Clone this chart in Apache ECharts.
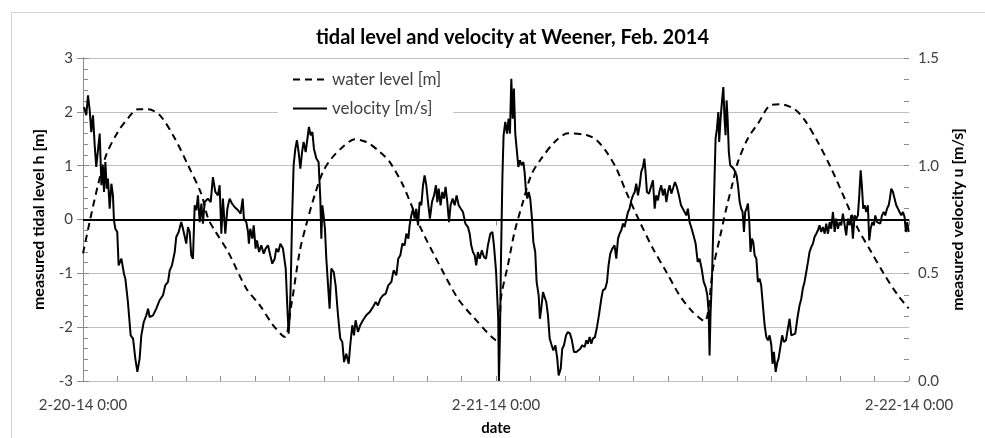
<!DOCTYPE html>
<html>
<head>
<meta charset="utf-8">
<script src="https://cdn.jsdelivr.net/npm/echarts@6/dist/echarts.min.js"></script>
<style>html,body{margin:0;padding:0;background:#fff}#c{width:985px;height:438px}</style>
</head>
<body>
<div id="c"></div>
<script>
// hours since 2-20-14 0:00
var dateLabels = {0: '2-20-14 0:00', 24: '2-21-14 0:00', 48: '2-22-14 0:00'};

var levelT = [0, 0.39, 0.87, 1.35, 2.03, 2.61, 3.2, 3.78, 4.46, 5.33, 6.1, 6.87, 7.27, 7.65, 8.43, 9.49, 10.27, 11.04, 11.72,
  12.1, 12.59, 12.97, 13.46, 13.95, 14.43, 15.11, 15.79, 16.46, 17.24, 17.82, 18.59, 19.08, 19.64, 20.82, 21.79, 22.76, 24.02,
  24.31, 24.69, 25.08, 25.57, 26.05, 26.63, 27.41, 28.18, 29.25, 29.83, 30.41, 30.99, 31.57, 32.35, 33.12, 33.89, 34.67, 35.44, 36.12,
  36.61, 37.0, 37.38, 37.77, 38.06, 38.64, 39.22, 40.0, 40.57, 41.35, 41.93, 42.7, 43.48, 44.26, 45.03, 45.8, 46.58, 47.36, 47.98];
var levelH = [-0.63, -0.04, 0.64, 1.2, 1.63, 1.88, 2.05, 2.05, 1.94, 1.51, 1.01, 0.48, 0.02, -0.2, -0.6, -1.28, -1.59, -1.96, -2.18,
  -1.6, -0.6, -0.1, 0.45, 0.89, 1.13, 1.35, 1.49, 1.44, 1.26, 1.07, 0.64, 0.27, -0.17, -0.91, -1.47, -1.84, -2.24,
  -1.41, -0.85, -0.23, 0.33, 0.83, 1.13, 1.44, 1.6, 1.57, 1.48, 1.26, 0.95, 0.51, -0.04, -0.54, -0.97, -1.41, -1.72, -1.89,
  -0.91, -0.35, 0.2, 0.7, 1.07, 1.51, 1.78, 2.13, 2.14, 2.05, 1.85, 1.44, 0.95, 0.39, -0.17, -0.6, -1.03, -1.41, -1.65];

var velT = [0.06, 0.19, 0.29, 0.39, 0.48, 0.58, 0.68, 0.77, 0.87, 0.97, 1.07, 1.16, 1.22, 1.30, 1.38, 1.45, 1.55, 1.65, 1.74, 1.80,
  1.88, 1.99, 2.07, 2.23, 2.38, 2.46, 2.61, 2.77, 2.91, 3.04, 3.16, 3.29, 3.39, 3.53, 3.68, 3.78, 3.87, 4.07, 4.26, 4.45,
  4.65, 4.78, 4.94, 5.04, 5.17, 5.33, 5.42, 5.56, 5.71, 5.81, 5.91, 6.00, 6.10, 6.20, 6.29, 6.39, 6.49, 6.59, 6.68, 6.78,
  6.88, 6.97, 7.07, 7.26, 7.42, 7.55, 7.69, 7.84, 7.94, 8.04, 8.13, 8.27, 8.39, 8.52, 8.66, 8.81, 9.01, 9.16, 9.28, 9.35,
  9.49, 9.59, 9.64, 9.72, 9.84, 9.92, 10.03, 10.11, 10.23, 10.36, 10.50, 10.61, 10.75, 10.88, 11.00, 11.14, 11.23, 11.35, 11.47, 11.62,
  11.78, 11.87, 11.95, 12.01, 12.07, 12.15, 12.24, 12.34, 12.43, 12.53, 12.63, 12.73, 12.82, 12.94, 13.04, 13.13, 13.23, 13.33, 13.42, 13.56,
  13.69, 13.79, 13.85, 13.91, 13.98, 14.06, 14.14, 14.24, 14.33, 14.43, 14.57, 14.68, 14.82, 14.95, 15.07, 15.17, 15.30, 15.44, 15.53, 15.65,
  15.75, 15.84, 15.98, 16.11, 16.27, 16.46, 16.66, 16.85, 17.01, 17.14, 17.28, 17.43, 17.59, 17.74, 17.92, 18.05, 18.21, 18.32, 18.44, 18.56,
  18.69, 18.79, 18.91, 18.98, 19.08, 19.18, 19.27, 19.37, 19.47, 19.56, 19.66, 19.76, 19.85, 19.95, 20.05, 20.16, 20.28, 20.40, 20.51, 20.59,
  20.67, 20.78, 20.88, 20.98, 21.07, 21.17, 21.27, 21.36, 21.48, 21.60, 21.71, 21.83, 21.94, 22.08, 22.22, 22.37, 22.47, 22.56, 22.66, 22.76,
  22.85, 22.95, 23.05, 23.18, 23.30, 23.42, 23.53, 23.67, 23.79, 23.88, 24.00, 24.08, 24.13, 24.17, 24.23, 24.29, 24.37, 24.44, 24.54, 24.64,
  24.73, 24.81, 24.89, 24.97, 25.04, 25.12, 25.20, 25.30, 25.39, 25.49, 25.59, 25.66, 25.74, 25.82, 25.90, 25.99, 26.09, 26.17, 26.28, 26.36,
  26.48, 26.55, 26.63, 26.73, 26.83, 26.92, 27.02, 27.12, 27.21, 27.33, 27.45, 27.56, 27.64, 27.76, 27.85, 27.95, 28.07, 28.18, 28.30, 28.41,
  28.53, 28.67, 28.76, 28.90, 29.01, 29.15, 29.25, 29.34, 29.44, 29.54, 29.63, 29.75, 29.87, 29.98, 30.12, 30.21, 30.35, 30.45, 30.54, 30.64,
  30.76, 30.89, 30.99, 31.09, 31.18, 31.28, 31.38, 31.47, 31.57, 31.67, 31.76, 31.86, 31.96, 32.06, 32.15, 32.25, 32.35, 32.44, 32.54, 32.62,
  32.69, 32.77, 32.89, 33.00, 33.12, 33.22, 33.31, 33.41, 33.51, 33.60, 33.70, 33.80, 33.90, 33.99, 34.09, 34.19, 34.28, 34.40, 34.51, 34.63,
  34.75, 34.86, 34.96, 35.06, 35.15, 35.25, 35.37, 35.48, 35.60, 35.72, 35.83, 35.95, 36.07, 36.18, 36.28, 36.36, 36.41, 36.47, 36.55, 36.63,
  36.70, 36.76, 36.84, 36.92, 36.97, 37.05, 37.13, 37.21, 37.28, 37.34, 37.40, 37.46, 37.53, 37.61, 37.71, 37.81, 37.90, 37.98, 38.06, 38.16,
  38.25, 38.33, 38.41, 38.48, 38.56, 38.64, 38.72, 38.79, 38.87, 38.95, 39.03, 39.13, 39.22, 39.32, 39.41, 39.51, 39.61, 39.71, 39.80, 39.90,
  40.00, 40.07, 40.15, 40.25, 40.35, 40.42, 40.54, 40.63, 40.73, 40.85, 40.96, 41.06, 41.16, 41.26, 41.39, 41.51, 41.64, 41.74, 41.83, 41.93,
  42.03, 42.13, 42.22, 42.32, 42.42, 42.51, 42.61, 42.71, 42.80, 42.90, 43.00, 43.10, 43.19, 43.29, 43.39, 43.48, 43.58, 43.68, 43.77, 43.87,
  43.97, 44.06, 44.16, 44.26, 44.35, 44.45, 44.55, 44.64, 44.74, 44.84, 44.94, 45.03, 45.11, 45.19, 45.26, 45.34, 45.42, 45.52, 45.61, 45.69,
  45.77, 45.87, 45.96, 46.04, 46.14, 46.23, 46.33, 46.43, 46.53, 46.62, 46.72, 46.82, 46.89, 46.97, 47.07, 47.16, 47.26, 47.36, 47.45, 47.55,
  47.65, 47.74, 47.82, 47.90, 47.98];
var velU = [1.272, 1.234, 1.327, 1.257, 1.156, 1.234, 1.094, 0.994, 1.002, 1.149, 0.909, 0.994, 0.878, 1.017, 0.893, 0.940, 0.800, 0.916, 0.862, 0.746,
  0.707, 0.692, 0.537, 0.568, 0.498, 0.475, 0.367, 0.212, 0.197, 0.104, 0.042, 0.104, 0.212, 0.274, 0.305, 0.336, 0.297, 0.305, 0.336, 0.375,
  0.398, 0.444, 0.460, 0.514, 0.537, 0.599, 0.669, 0.692, 0.738, 0.707, 0.715, 0.638, 0.715, 0.692, 0.584, 0.568, 0.816, 0.793, 0.862, 0.738,
  0.824, 0.731, 0.831, 0.847, 0.831, 0.947, 0.878, 0.862, 0.909, 0.684, 0.847, 0.684, 0.800, 0.847, 0.824, 0.808, 0.793, 0.777, 0.847, 0.754,
  0.738, 0.692, 0.638, 0.707, 0.661, 0.723, 0.615, 0.653, 0.599, 0.630, 0.591, 0.615, 0.630, 0.584, 0.545, 0.568, 0.615, 0.599, 0.638, 0.615,
  0.522, 0.351, 0.220, 0.305, 0.444, 0.754, 1.002, 1.079, 1.118, 1.063, 0.986, 1.063, 1.110, 1.063, 1.125, 1.180, 1.141, 1.156, 1.079, 1.033,
  1.017, 0.847, 0.661, 0.816, 0.769, 0.707, 0.568, 0.444, 0.336, 0.522, 0.506, 0.444, 0.305, 0.197, 0.181, 0.088, 0.127, 0.080, 0.166, 0.259,
  0.212, 0.282, 0.228, 0.259, 0.282, 0.305, 0.320, 0.344, 0.367, 0.351, 0.382, 0.398, 0.406, 0.444, 0.460, 0.514, 0.491, 0.568, 0.584, 0.638,
  0.630, 0.684, 0.661, 0.723, 0.769, 0.800, 0.754, 0.800, 0.723, 0.831, 0.816, 0.909, 0.955, 0.909, 0.831, 0.754, 0.831, 0.862, 0.909, 0.831,
  0.893, 0.816, 0.878, 0.847, 0.901, 0.831, 0.738, 0.816, 0.847, 0.816, 0.862, 0.816, 0.808, 0.785, 0.731, 0.715, 0.684, 0.630, 0.599, 0.584,
  0.537, 0.599, 0.568, 0.607, 0.576, 0.568, 0.630, 0.684, 0.692, 0.630, 0.514, 0.506, 0.289, 0.000, 0.212, 0.568, 0.940, 1.141, 1.203, 1.149,
  1.218, 1.149, 1.404, 1.218, 1.358, 1.149, 1.079, 0.994, 1.025, 1.002, 1.017, 0.971, 0.885, 0.847, 0.878, 0.847, 0.754, 0.646, 0.599, 0.460,
  0.398, 0.289, 0.336, 0.413, 0.421, 0.367, 0.305, 0.197, 0.173, 0.142, 0.166, 0.104, 0.026, 0.057, 0.150, 0.166, 0.212, 0.228, 0.220, 0.189,
  0.135, 0.135, 0.142, 0.150, 0.166, 0.158, 0.189, 0.173, 0.204, 0.173, 0.197, 0.204, 0.251, 0.305, 0.382, 0.421, 0.429, 0.460, 0.537, 0.591,
  0.615, 0.630, 0.568, 0.661, 0.684, 0.700, 0.731, 0.715, 0.707, 0.785, 0.800, 0.839, 0.862, 0.878, 0.916, 0.862, 0.909, 0.971, 0.994, 1.033,
  0.971, 0.878, 0.870, 0.870, 0.932, 0.800, 0.862, 0.839, 0.885, 0.909, 0.862, 0.893, 0.831, 0.878, 0.909, 0.870, 0.893, 0.924, 0.901, 0.862,
  0.816, 0.800, 0.808, 0.769, 0.800, 0.738, 0.707, 0.676, 0.638, 0.553, 0.568, 0.522, 0.460, 0.437, 0.398, 0.320, 0.119, 0.320, 0.475, 0.723,
  0.940, 1.125, 1.172, 1.249, 1.110, 1.218, 1.296, 1.365, 1.218, 1.141, 1.303, 1.218, 1.063, 1.002, 1.009, 0.986, 0.994, 0.955, 0.909, 0.831,
  0.800, 0.785, 0.692, 0.785, 0.800, 0.824, 0.738, 0.599, 0.661, 0.646, 0.584, 0.568, 0.460, 0.475, 0.444, 0.351, 0.259, 0.204, 0.189, 0.212,
  0.166, 0.080, 0.135, 0.042, 0.088, 0.104, 0.166, 0.212, 0.181, 0.189, 0.243, 0.289, 0.212, 0.212, 0.220, 0.289, 0.351, 0.382, 0.429, 0.460,
  0.506, 0.553, 0.599, 0.622, 0.638, 0.669, 0.684, 0.700, 0.723, 0.692, 0.715, 0.684, 0.731, 0.684, 0.738, 0.707, 0.785, 0.692, 0.754, 0.707,
  0.738, 0.723, 0.777, 0.785, 0.676, 0.754, 0.723, 0.769, 0.661, 0.769, 0.754, 0.769, 0.862, 0.978, 0.909, 0.800, 0.816, 0.785, 0.816, 0.653,
  0.707, 0.738, 0.723, 0.769, 0.738, 0.746, 0.731, 0.769, 0.785, 0.769, 0.800, 0.816, 0.847, 0.893, 0.878, 0.847, 0.816, 0.800, 0.785, 0.769,
  0.785, 0.762, 0.692, 0.738, 0.692];

var levelData = levelT.map(function (t, i) { return [t, levelH[i]]; });
var velData = velT.map(function (t, i) { return [t, velU[i]]; });

var FONT = 'Lato';
var LABEL = '#404040';
var AXIS = '#8c8c8c';
var GRIDC = '#c0c0c0';

var chart = echarts.init(document.getElementById('c'), null, {renderer: 'canvas'});
chart.setOption({
  animation: false,
  backgroundColor: '#fff',
  graphic: [{
    type: 'rect', z: -10, silent: true,
    shape: {x: 11.5, y: 12.5, width: 990, height: 460},
    style: {fill: 'none', stroke: '#d0d0d0', lineWidth: 1}
  }],
  title: {
    text: 'tidal level and velocity at Weener, Feb. 2014',
    left: 311, top: 23,
    textStyle: {fontFamily: FONT, fontSize: 20, fontWeight: 'bold', color: '#000'}
  },
  legend: {
    left: 278, top: 63, orient: 'vertical', z: 1,
    backgroundColor: '#fff',
    padding: [8, 12, 6, 14],
    itemGap: 12, itemWidth: 34, itemHeight: 16,
    itemStyle: {opacity: 0},
    textStyle: {fontFamily: FONT, fontSize: 17, color: LABEL},
    data: ['water level [m]', 'velocity [m/s]']
  },
  grid: {left: 83, right: 76, top: 58, bottom: 57, outerBoundsMode: 'none', containLabel: false},
  xAxis: [{
    type: 'value', min: 0, max: 48, interval: 24,
    name: 'date', nameLocation: 'middle', nameGap: 40,
    nameTextStyle: {fontFamily: FONT, fontSize: 15, fontWeight: 'bold', color: '#000'},
    axisLine: {show: true, lineStyle: {color: AXIS, width: 1}},
    axisTick: {show: true, inside: false, length: 6, lineStyle: {color: AXIS}},
    axisLabel: {fontFamily: FONT, fontSize: 15, color: LABEL, margin: 17,
      formatter: function (v) { return dateLabels[v] || ''; }},
    splitLine: {show: false}
  }, {
    type: 'value', min: 0, max: 48, interval: 2, position: 'bottom',
    axisLine: {show: false},
    axisTick: {show: true, inside: true, length: 5, lineStyle: {color: AXIS}},
    axisLabel: {show: false},
    splitLine: {show: false}
  }],
  yAxis: [{
    type: 'value', min: -3, max: 3, interval: 1, position: 'left',
    name: 'measured tidal level h [m]', nameLocation: 'middle', nameGap: 36,
    nameTextStyle: {fontFamily: FONT, fontSize: 16, fontWeight: 'bold', color: '#000'},
    axisLine: {show: true, lineStyle: {color: AXIS, width: 1}},
    axisTick: {show: true, inside: false, length: 6, lineStyle: {color: AXIS}},
    axisLabel: {fontFamily: FONT, fontSize: 15, color: LABEL, margin: 10},
    splitLine: {show: true, lineStyle: {color: GRIDC, width: 1}}
  }, {
    type: 'value', min: 0, max: 1.5, interval: 0.5, position: 'right',
    name: 'measured velocity u [m/s]', nameLocation: 'middle', nameGap: 41,
    nameTextStyle: {fontFamily: FONT, fontSize: 16, fontWeight: 'bold', color: '#000'},
    axisLine: {show: true, lineStyle: {color: AXIS, width: 1}},
    axisTick: {show: true, inside: false, length: 6, lineStyle: {color: AXIS}},
    axisLabel: {fontFamily: FONT, fontSize: 15, color: LABEL, margin: 9,
      formatter: function (v) { return v.toFixed(1); }},
    splitLine: {show: false}
  }, {
    type: 'value', min: -3, max: 3, interval: 0.2, position: 'left',
    axisLine: {show: false},
    axisTick: {show: true, inside: true, length: 5, lineStyle: {color: AXIS}},
    axisLabel: {show: false}, splitLine: {show: false}
  }, {
    type: 'value', min: 0, max: 1.5, interval: 0.1, position: 'right',
    axisLine: {show: false},
    axisTick: {show: true, inside: true, length: 5, lineStyle: {color: AXIS}},
    axisLabel: {show: false}, splitLine: {show: false}
  }],
  series: [{
    name: 'water level [m]', type: 'line', xAxisIndex: 0, yAxisIndex: 0,
    data: levelData, showSymbol: false, symbol: 'none', smooth: 0.3,
    lineStyle: {color: '#000', width: 2, type: [7, 5]},
    itemStyle: {color: '#000'},
    markLine: {
      silent: true, symbol: 'none', label: {show: false},
      lineStyle: {color: '#000', width: 2, type: 'solid'},
      data: [{yAxis: 0}]
    }
  }, {
    name: 'velocity [m/s]', type: 'line', xAxisIndex: 0, yAxisIndex: 1,
    data: velData, showSymbol: false, symbol: 'none',
    lineStyle: {color: '#000', width: 2},
    itemStyle: {color: '#000'}
  }]
});
</script>
</body>
</html>
